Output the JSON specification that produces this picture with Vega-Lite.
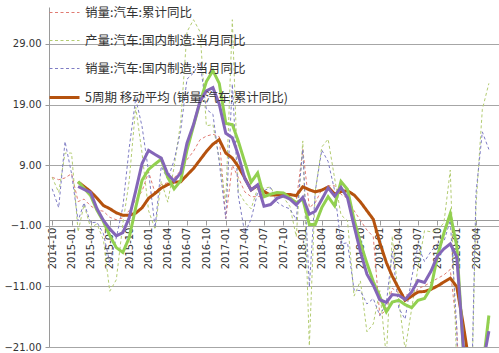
{
"$schema": "https://vega.github.io/schema/vega-lite/v6.json",
"width": 450, "height": 340,
"autosize": {"type": "none"},
"padding": {"left": 49, "top": 7, "right": 0, "bottom": 6},
"background": "white",
"config": {"view": {"stroke": null}, "font": "DejaVu Sans"},
"datasets": {"rows": [
{"d":"2014-10","s":"A","v":7.0},{"d":"2014-11","s":"A","v":6.6},{"d":"2014-12","s":"A","v":6.9},
{"d":"2015-01","s":"A","v":7.6},{"d":"2015-02","s":"A","v":3.0},{"d":"2015-03","s":"A","v":3.4},{"d":"2015-04","s":"A","v":2.3},{"d":"2015-05","s":"A","v":1.6},{"d":"2015-06","s":"A","v":1.4},{"d":"2015-07","s":"A","v":0.4},{"d":"2015-08","s":"A","v":0.0},{"d":"2015-09","s":"A","v":0.3},{"d":"2015-10","s":"A","v":1.5},{"d":"2015-11","s":"A","v":3.3},{"d":"2015-12","s":"A","v":4.7},
{"d":"2016-01","s":"A","v":7.9},{"d":"2016-02","s":"A","v":4.4},{"d":"2016-03","s":"A","v":5.8},{"d":"2016-04","s":"A","v":6.1},{"d":"2016-05","s":"A","v":6.9},{"d":"2016-06","s":"A","v":8.1},{"d":"2016-07","s":"A","v":9.9},{"d":"2016-08","s":"A","v":11.3},{"d":"2016-09","s":"A","v":13.2},{"d":"2016-10","s":"A","v":13.8},{"d":"2016-11","s":"A","v":14.1},{"d":"2016-12","s":"A","v":13.7},
{"d":"2017-01","s":"A","v":0.2},{"d":"2017-02","s":"A","v":9.0},{"d":"2017-03","s":"A","v":7.0},{"d":"2017-04","s":"A","v":4.6},{"d":"2017-05","s":"A","v":3.8},{"d":"2017-06","s":"A","v":3.8},{"d":"2017-07","s":"A","v":4.0},{"d":"2017-08","s":"A","v":4.2},{"d":"2017-09","s":"A","v":4.5},{"d":"2017-10","s":"A","v":4.5},{"d":"2017-11","s":"A","v":3.6},{"d":"2017-12","s":"A","v":3.0},
{"d":"2018-01","s":"A","v":11.6},{"d":"2018-02","s":"A","v":2.0},{"d":"2018-03","s":"A","v":2.8},{"d":"2018-04","s":"A","v":5.0},{"d":"2018-05","s":"A","v":5.6},{"d":"2018-06","s":"A","v":5.6},{"d":"2018-07","s":"A","v":4.2},{"d":"2018-08","s":"A","v":3.5},{"d":"2018-09","s":"A","v":1.5},{"d":"2018-10","s":"A","v":-0.1},{"d":"2018-11","s":"A","v":-1.7},{"d":"2018-12","s":"A","v":-2.8},
{"d":"2019-01","s":"A","v":-15.8},{"d":"2019-02","s":"A","v":-14.9},{"d":"2019-03","s":"A","v":-11.3},{"d":"2019-04","s":"A","v":-12.1},{"d":"2019-05","s":"A","v":-12.4},{"d":"2019-06","s":"A","v":-12.4},{"d":"2019-07","s":"A","v":-11.4},{"d":"2019-08","s":"A","v":-10.9},{"d":"2019-09","s":"A","v":-10.3},{"d":"2019-10","s":"A","v":-9.7},{"d":"2019-11","s":"A","v":-9.1},{"d":"2019-12","s":"A","v":-8.2},
{"d":"2020-01","s":"A","v":-18.0},{"d":"2020-02","s":"A","v":-42.0},{"d":"2020-03","s":"A","v":-42.4},{"d":"2020-04","s":"A","v":-31.1},{"d":"2020-05","s":"A","v":-23.1},{"d":"2020-06","s":"A","v":-16.9},

{"d":"2014-10","s":"B","v":7.0},{"d":"2014-11","s":"B","v":4.5},{"d":"2014-12","s":"B","v":11.0},
{"d":"2015-01","s":"B","v":11.0},{"d":"2015-02","s":"B","v":-2.0},{"d":"2015-03","s":"B","v":2.5},{"d":"2015-04","s":"B","v":-1.3},{"d":"2015-05","s":"B","v":-0.7},{"d":"2015-06","s":"B","v":-3.3},{"d":"2015-07","s":"B","v":-11.8},{"d":"2015-08","s":"B","v":-9.9},{"d":"2015-09","s":"B","v":-0.7},{"d":"2015-10","s":"B","v":6.4},{"d":"2015-11","s":"B","v":18.6},{"d":"2015-12","s":"B","v":11.0},
{"d":"2016-01","s":"B","v":1.5},{"d":"2016-02","s":"B","v":-1.6},{"d":"2016-03","s":"B","v":6.3},{"d":"2016-04","s":"B","v":2.9},{"d":"2016-05","s":"B","v":8.7},{"d":"2016-06","s":"B","v":16.0},{"d":"2016-07","s":"B","v":31.0},{"d":"2016-08","s":"B","v":33.0},{"d":"2016-09","s":"B","v":31.0},{"d":"2016-10","s":"B","v":15.5},{"d":"2016-11","s":"B","v":15.7},{"d":"2016-12","s":"B","v":10.0},
{"d":"2017-01","s":"B","v":3.0},{"d":"2017-02","s":"B","v":33.0},{"d":"2017-03","s":"B","v":4.7},{"d":"2017-04","s":"B","v":2.9},{"d":"2017-05","s":"B","v":1.8},{"d":"2017-06","s":"B","v":5.2},{"d":"2017-07","s":"B","v":5.2},{"d":"2017-08","s":"B","v":5.4},{"d":"2017-09","s":"B","v":3.5},{"d":"2017-10","s":"B","v":3.7},{"d":"2017-11","s":"B","v":2.2},{"d":"2017-12","s":"B","v":-2.8},
{"d":"2018-01","s":"B","v":13.0},{"d":"2018-02","s":"B","v":-20.8},{"d":"2018-03","s":"B","v":4.7},{"d":"2018-04","s":"B","v":12.0},{"d":"2018-05","s":"B","v":13.3},{"d":"2018-06","s":"B","v":6.8},{"d":"2018-07","s":"B","v":0.8},{"d":"2018-08","s":"B","v":-0.2},{"d":"2018-09","s":"B","v":-12.6},{"d":"2018-10","s":"B","v":-10.1},{"d":"2018-11","s":"B","v":-18.5},{"d":"2018-12","s":"B","v":-17.2},
{"d":"2019-01","s":"B","v":-11.7},{"d":"2019-02","s":"B","v":-22.7},{"d":"2019-03","s":"B","v":-2.7},{"d":"2019-04","s":"B","v":-13.3},{"d":"2019-05","s":"B","v":-21.5},{"d":"2019-06","s":"B","v":-14.7},{"d":"2019-07","s":"B","v":-7.9},{"d":"2019-08","s":"B","v":-1.8},{"d":"2019-09","s":"B","v":-2.0},{"d":"2019-10","s":"B","v":-1.8},{"d":"2019-11","s":"B","v":-0.5},{"d":"2019-12","s":"B","v":8.2},
{"d":"2020-01","s":"B","v":-24.7},{"d":"2020-02","s":"B","v":-79.8},{"d":"2020-03","s":"B","v":-44.4},{"d":"2020-04","s":"B","v":2.3},{"d":"2020-05","s":"B","v":18.2},{"d":"2020-06","s":"B","v":22.5},

{"d":"2014-10","s":"C","v":5.1},{"d":"2014-11","s":"C","v":2.0},{"d":"2014-12","s":"C","v":12.9},
{"d":"2015-01","s":"C","v":7.6},{"d":"2015-02","s":"C","v":-0.2},{"d":"2015-03","s":"C","v":2.8},{"d":"2015-04","s":"C","v":-0.5},{"d":"2015-05","s":"C","v":-0.4},{"d":"2015-06","s":"C","v":-2.3},{"d":"2015-07","s":"C","v":-7.1},{"d":"2015-08","s":"C","v":-3.0},{"d":"2015-09","s":"C","v":2.1},{"d":"2015-10","s":"C","v":11.8},{"d":"2015-11","s":"C","v":20.0},{"d":"2015-12","s":"C","v":15.4},
{"d":"2016-01","s":"C","v":7.9},{"d":"2016-02","s":"C","v":-1.3},{"d":"2016-03","s":"C","v":8.8},{"d":"2016-04","s":"C","v":6.7},{"d":"2016-05","s":"C","v":9.8},{"d":"2016-06","s":"C","v":14.6},{"d":"2016-07","s":"C","v":23.2},{"d":"2016-08","s":"C","v":24.2},{"d":"2016-09","s":"C","v":26.0},{"d":"2016-10","s":"C","v":18.2},{"d":"2016-11","s":"C","v":17.4},{"d":"2016-12","s":"C","v":9.5},
{"d":"2017-01","s":"C","v":0.2},{"d":"2017-02","s":"C","v":22.4},{"d":"2017-03","s":"C","v":4.0},{"d":"2017-04","s":"C","v":-2.2},{"d":"2017-05","s":"C","v":0.1},{"d":"2017-06","s":"C","v":4.5},{"d":"2017-07","s":"C","v":4.8},{"d":"2017-08","s":"C","v":5.3},{"d":"2017-09","s":"C","v":2.9},{"d":"2017-10","s":"C","v":2.2},{"d":"2017-11","s":"C","v":1.8},{"d":"2017-12","s":"C","v":0.0},
{"d":"2018-01","s":"C","v":11.6},{"d":"2018-02","s":"C","v":-11.1},{"d":"2018-03","s":"C","v":4.7},{"d":"2018-04","s":"C","v":11.5},{"d":"2018-05","s":"C","v":9.6},{"d":"2018-06","s":"C","v":4.8},{"d":"2018-07","s":"C","v":-4.0},{"d":"2018-08","s":"C","v":-3.8},{"d":"2018-09","s":"C","v":-11.6},{"d":"2018-10","s":"C","v":-11.7},{"d":"2018-11","s":"C","v":-13.9},{"d":"2018-12","s":"C","v":-13.0},
{"d":"2019-01","s":"C","v":-15.8},{"d":"2019-02","s":"C","v":-13.8},{"d":"2019-03","s":"C","v":-5.2},{"d":"2019-04","s":"C","v":-14.6},{"d":"2019-05","s":"C","v":-16.4},{"d":"2019-06","s":"C","v":-9.6},{"d":"2019-07","s":"C","v":-4.3},{"d":"2019-08","s":"C","v":-6.9},{"d":"2019-09","s":"C","v":-5.2},{"d":"2019-10","s":"C","v":-4.0},{"d":"2019-11","s":"C","v":-3.6},{"d":"2019-12","s":"C","v":-0.1},
{"d":"2020-01","s":"C","v":-18.0},{"d":"2020-02","s":"C","v":-79.1},{"d":"2020-03","s":"C","v":-43.3},{"d":"2020-04","s":"C","v":4.4},{"d":"2020-05","s":"C","v":14.5},{"d":"2020-06","s":"C","v":11.6},

{"d":"2015-02","s":"D","v":6.22},{"d":"2015-03","s":"D","v":5.5},{"d":"2015-04","s":"D","v":4.64},{"d":"2015-05","s":"D","v":3.58},{"d":"2015-06","s":"D","v":2.34},{"d":"2015-07","s":"D","v":1.82},{"d":"2015-08","s":"D","v":1.14},{"d":"2015-09","s":"D","v":0.74},{"d":"2015-10","s":"D","v":0.72},{"d":"2015-11","s":"D","v":1.1},{"d":"2015-12","s":"D","v":1.96},
{"d":"2016-01","s":"D","v":3.54},{"d":"2016-02","s":"D","v":4.36},{"d":"2016-03","s":"D","v":5.22},{"d":"2016-04","s":"D","v":5.78},{"d":"2016-05","s":"D","v":6.22},{"d":"2016-06","s":"D","v":6.26},{"d":"2016-07","s":"D","v":7.36},{"d":"2016-08","s":"D","v":8.46},{"d":"2016-09","s":"D","v":9.88},{"d":"2016-10","s":"D","v":11.26},{"d":"2016-11","s":"D","v":12.46},{"d":"2016-12","s":"D","v":13.22},
{"d":"2017-01","s":"D","v":11.0},{"d":"2017-02","s":"D","v":10.16},{"d":"2017-03","s":"D","v":8.8},{"d":"2017-04","s":"D","v":6.9},{"d":"2017-05","s":"D","v":4.92},{"d":"2017-06","s":"D","v":5.64},{"d":"2017-07","s":"D","v":4.64},{"d":"2017-08","s":"D","v":4.08},{"d":"2017-09","s":"D","v":4.06},{"d":"2017-10","s":"D","v":4.2},{"d":"2017-11","s":"D","v":4.16},{"d":"2017-12","s":"D","v":3.96},
{"d":"2018-01","s":"D","v":5.44},{"d":"2018-02","s":"D","v":4.94},{"d":"2018-03","s":"D","v":4.6},{"d":"2018-04","s":"D","v":4.88},{"d":"2018-05","s":"D","v":5.4},{"d":"2018-06","s":"D","v":4.2},{"d":"2018-07","s":"D","v":4.64},{"d":"2018-08","s":"D","v":4.78},{"d":"2018-09","s":"D","v":4.08},{"d":"2018-10","s":"D","v":2.94},{"d":"2018-11","s":"D","v":1.48},{"d":"2018-12","s":"D","v":0.08},
{"d":"2019-01","s":"D","v":-3.78},{"d":"2019-02","s":"D","v":-7.06},{"d":"2019-03","s":"D","v":-9.3},{"d":"2019-04","s":"D","v":-11.38},{"d":"2019-05","s":"D","v":-13.3},{"d":"2019-06","s":"D","v":-12.62},{"d":"2019-07","s":"D","v":-11.92},{"d":"2019-08","s":"D","v":-11.84},{"d":"2019-09","s":"D","v":-11.48},{"d":"2019-10","s":"D","v":-10.94},{"d":"2019-11","s":"D","v":-10.28},{"d":"2019-12","s":"D","v":-9.64},
{"d":"2020-01","s":"D","v":-11.06},{"d":"2020-02","s":"D","v":-17.4},{"d":"2020-03","s":"D","v":-23.94},{"d":"2020-04","s":"D","v":-28.34},{"d":"2020-05","s":"D","v":-31.32},{"d":"2020-06","s":"D","v":-31.1},

{"d":"2015-02","s":"G","v":6.3},{"d":"2015-03","s":"G","v":5.2},{"d":"2015-04","s":"G","v":4.0},{"d":"2015-05","s":"G","v":1.6},{"d":"2015-06","s":"G","v":-0.3},{"d":"2015-07","s":"G","v":-2.6},{"d":"2015-08","s":"G","v":-4.6},{"d":"2015-09","s":"G","v":-5.4},{"d":"2015-10","s":"G","v":-3.0},{"d":"2015-11","s":"G","v":2.0},{"d":"2015-12","s":"G","v":6.5},
{"d":"2016-01","s":"G","v":8.3},{"d":"2016-02","s":"G","v":9.2},{"d":"2016-03","s":"G","v":10.0},{"d":"2016-04","s":"G","v":7.0},{"d":"2016-05","s":"G","v":5.1},{"d":"2016-06","s":"G","v":6.4},{"d":"2016-07","s":"G","v":11.5},{"d":"2016-08","s":"G","v":15.5},{"d":"2016-09","s":"G","v":19.4},{"d":"2016-10","s":"G","v":22.8},{"d":"2016-11","s":"G","v":24.6},{"d":"2016-12","s":"G","v":22.5},
{"d":"2017-01","s":"G","v":15.9},{"d":"2017-02","s":"G","v":15.7},{"d":"2017-03","s":"G","v":13.0},{"d":"2017-04","s":"G","v":9.5},{"d":"2017-05","s":"G","v":6.2},{"d":"2017-06","s":"G","v":7.7},{"d":"2017-07","s":"G","v":3.8},{"d":"2017-08","s":"G","v":4.2},{"d":"2017-09","s":"G","v":4.5},{"d":"2017-10","s":"G","v":4.4},{"d":"2017-11","s":"G","v":3.6},{"d":"2017-12","s":"G","v":2.8},
{"d":"2018-01","s":"G","v":3.4},{"d":"2018-02","s":"G","v":-0.8},{"d":"2018-03","s":"G","v":-0.8},{"d":"2018-04","s":"G","v":2.0},{"d":"2018-05","s":"G","v":3.8},{"d":"2018-06","s":"G","v":2.3},{"d":"2018-07","s":"G","v":6.3},{"d":"2018-08","s":"G","v":5.0},{"d":"2018-09","s":"G","v":0.0},{"d":"2018-10","s":"G","v":-3.8},{"d":"2018-11","s":"G","v":-7.2},{"d":"2018-12","s":"G","v":-10.2},
{"d":"2019-01","s":"G","v":-12.7},{"d":"2019-02","s":"G","v":-15.2},{"d":"2019-03","s":"G","v":-13.6},{"d":"2019-04","s":"G","v":-13.3},{"d":"2019-05","s":"G","v":-14.0},{"d":"2019-06","s":"G","v":-14.5},{"d":"2019-07","s":"G","v":-13.3},{"d":"2019-08","s":"G","v":-13.0},{"d":"2019-09","s":"G","v":-11.2},{"d":"2019-10","s":"G","v":-6.0},{"d":"2019-11","s":"G","v":-2.2},{"d":"2019-12","s":"G","v":1.0},
{"d":"2020-01","s":"G","v":-4.4},{"d":"2020-02","s":"G","v":-21.5},{"d":"2020-03","s":"G","v":-29.0},{"d":"2020-04","s":"G","v":-28.0},{"d":"2020-05","s":"G","v":-25.0},{"d":"2020-06","s":"G","v":-15.8},

{"d":"2015-02","s":"P","v":5.48},{"d":"2015-03","s":"P","v":5.02},{"d":"2015-04","s":"P","v":4.52},{"d":"2015-05","s":"P","v":1.86},{"d":"2015-06","s":"P","v":-0.12},{"d":"2015-07","s":"P","v":-1.5},{"d":"2015-08","s":"P","v":-2.66},{"d":"2015-09","s":"P","v":-2.14},{"d":"2015-10","s":"P","v":0.3},{"d":"2015-11","s":"P","v":4.76},{"d":"2015-12","s":"P","v":9.26},
{"d":"2016-01","s":"P","v":11.44},{"d":"2016-02","s":"P","v":10.76},{"d":"2016-03","s":"P","v":10.16},{"d":"2016-04","s":"P","v":7.5},{"d":"2016-05","s":"P","v":6.38},{"d":"2016-06","s":"P","v":7.72},{"d":"2016-07","s":"P","v":12.62},{"d":"2016-08","s":"P","v":15.7},{"d":"2016-09","s":"P","v":19.56},{"d":"2016-10","s":"P","v":21.24},{"d":"2016-11","s":"P","v":21.8},{"d":"2016-12","s":"P","v":19.06},
{"d":"2017-01","s":"P","v":14.26},{"d":"2017-02","s":"P","v":13.54},{"d":"2017-03","s":"P","v":10.7},{"d":"2017-04","s":"P","v":6.78},{"d":"2017-05","s":"P","v":4.9},{"d":"2017-06","s":"P","v":5.76},{"d":"2017-07","s":"P","v":2.24},{"d":"2017-08","s":"P","v":2.5},{"d":"2017-09","s":"P","v":3.52},{"d":"2017-10","s":"P","v":3.94},{"d":"2017-11","s":"P","v":3.4},{"d":"2017-12","s":"P","v":2.44},
{"d":"2018-01","s":"P","v":3.7},{"d":"2018-02","s":"P","v":0.9},{"d":"2018-03","s":"P","v":1.4},{"d":"2018-04","s":"P","v":3.34},{"d":"2018-05","s":"P","v":5.26},{"d":"2018-06","s":"P","v":3.9},{"d":"2018-07","s":"P","v":5.32},{"d":"2018-08","s":"P","v":3.62},{"d":"2018-09","s":"P","v":-1.0},{"d":"2018-10","s":"P","v":-5.26},{"d":"2018-11","s":"P","v":-9.0},{"d":"2018-12","s":"P","v":-10.8},
{"d":"2019-01","s":"P","v":-13.2},{"d":"2019-02","s":"P","v":-13.64},{"d":"2019-03","s":"P","v":-12.34},{"d":"2019-04","s":"P","v":-12.48},{"d":"2019-05","s":"P","v":-13.16},{"d":"2019-06","s":"P","v":-11.92},{"d":"2019-07","s":"P","v":-10.02},{"d":"2019-08","s":"P","v":-10.36},{"d":"2019-09","s":"P","v":-8.48},{"d":"2019-10","s":"P","v":-6.0},{"d":"2019-11","s":"P","v":-4.8},{"d":"2019-12","s":"P","v":-3.96},
{"d":"2020-01","s":"P","v":-6.18},{"d":"2020-02","s":"P","v":-20.96},{"d":"2020-03","s":"P","v":-28.82},{"d":"2020-04","s":"P","v":-27.22},{"d":"2020-05","s":"P","v":-24.3},{"d":"2020-06","s":"P","v":-18.38}
]},
"data": {"name": "rows"},
"encoding": {
  "x": {"field": "d", "type": "temporal",
    "scale": {"type": "utc", "domain": [{"year": 2014, "month": 9, "date": 16, "utc": true}, {"year": 2020, "month": 7, "date": 19, "utc": true}]},
    "axis": {"title": null, "format": "%Y-%m", "labelAngle": -90, "offset": -127, "grid": false,
      "values": [
        {"year":2014,"month":10,"date":1,"utc":true},
        {"year":2015,"month":1,"date":1,"utc":true},{"year":2015,"month":4,"date":1,"utc":true},{"year":2015,"month":7,"date":1,"utc":true},{"year":2015,"month":10,"date":1,"utc":true},
        {"year":2016,"month":1,"date":1,"utc":true},{"year":2016,"month":4,"date":1,"utc":true},{"year":2016,"month":7,"date":1,"utc":true},{"year":2016,"month":10,"date":1,"utc":true},
        {"year":2017,"month":1,"date":1,"utc":true},{"year":2017,"month":4,"date":1,"utc":true},{"year":2017,"month":7,"date":1,"utc":true},{"year":2017,"month":10,"date":1,"utc":true},
        {"year":2018,"month":1,"date":1,"utc":true},{"year":2018,"month":4,"date":1,"utc":true},{"year":2018,"month":7,"date":1,"utc":true},{"year":2018,"month":10,"date":1,"utc":true},
        {"year":2019,"month":1,"date":1,"utc":true},{"year":2019,"month":4,"date":1,"utc":true},{"year":2019,"month":7,"date":1,"utc":true},{"year":2019,"month":10,"date":1,"utc":true},
        {"year":2020,"month":1,"date":1,"utc":true},{"year":2020,"month":4,"date":1,"utc":true}],
      "domainColor": "#9A9A9A", "tickColor": "#9A9A9A", "tickSize": 5, "labelFontSize": 10, "labelColor": "#333333", "labelPadding": 2, "labelFont": "DejaVu Sans", "labelOverlap": false}},
  "y": {"field": "v", "type": "quantitative",
    "scale": {"domain": [-21, 35.1], "nice": false, "zero": false},
    "axis": {"title": null, "values": [-21, -11, -1, 9, 19, 29], "format": ".2f", "grid": true, "gridColor": "#A6A6A6",
      "domainColor": "#9A9A9A", "tickColor": "#9A9A9A", "tickSize": 4, "labelFontSize": 10, "labelColor": "#333333", "labelPadding": 4, "labelFont": "DejaVu Sans"}}
},
"layer": [
  {"transform": [{"filter": "datum.s != 'G' && datum.s != 'P'"}],
   "mark": {"type": "line", "clip": true},
   "encoding": {
     "color": {"field": "s", "type": "nominal",
       "scale": {"domain": ["A", "B", "C", "D"], "range": ["#E07B72", "#B3CC72", "#7E7CC4", "#B5520E"]},
       "legend": {"orient": "none", "legendX": -1, "legendY": -10, "title": null, "symbolType": "stroke", "symbolSize": 900, "labelFontSize": 12.5, "labelFont": "Noto Sans CJK SC", "labelColor": "#333333", "rowPadding": 6, "labelOffset": 4, "padding": 0, "labelLimit": 400,
         "labelExpr": "datum.value == 'A' ? '销量:汽车:累计同比' : datum.value == 'B' ? '产量:汽车:国内制造:当月同比' : datum.value == 'C' ? '销量:汽车:国内制造:当月同比' : '5周期 移动平均 (销量:汽车:累计同比)'"}},
     "strokeDash": {"field": "s", "type": "nominal",
       "scale": {"domain": ["A", "B", "C", "D"], "range": [[3, 2.5], [3, 2.5], [3, 2.5], [1, 0]]},
       "legend": {"orient": "none", "legendX": -1, "legendY": -10, "title": null, "symbolType": "stroke", "symbolSize": 900, "labelFontSize": 12.5, "labelFont": "Noto Sans CJK SC", "labelColor": "#333333", "rowPadding": 6, "labelOffset": 4, "padding": 0, "labelLimit": 400,
         "labelExpr": "datum.value == 'A' ? '销量:汽车:累计同比' : datum.value == 'B' ? '产量:汽车:国内制造:当月同比' : datum.value == 'C' ? '销量:汽车:国内制造:当月同比' : '5周期 移动平均 (销量:汽车:累计同比)'"}},
     "strokeWidth": {"field": "s", "type": "nominal",
       "scale": {"type": "ordinal", "domain": ["A", "B", "C", "D"], "range": [1, 1, 1, 3]},
       "legend": {"orient": "none", "legendX": -1, "legendY": -10, "title": null, "symbolType": "stroke", "symbolSize": 900, "labelFontSize": 12.5, "labelFont": "Noto Sans CJK SC", "labelColor": "#333333", "rowPadding": 6, "labelOffset": 4, "padding": 0, "labelLimit": 400,
         "labelExpr": "datum.value == 'A' ? '销量:汽车:累计同比' : datum.value == 'B' ? '产量:汽车:国内制造:当月同比' : datum.value == 'C' ? '销量:汽车:国内制造:当月同比' : '5周期 移动平均 (销量:汽车:累计同比)'"}}
   }},
  {"transform": [{"filter": "datum.s == 'G'"}],
   "mark": {"type": "line", "clip": true, "color": "#92D050", "strokeWidth": 3}},
  {"transform": [{"filter": "datum.s == 'P'"}],
   "mark": {"type": "line", "clip": true, "color": "#8466B8", "strokeWidth": 3}}
]
}
